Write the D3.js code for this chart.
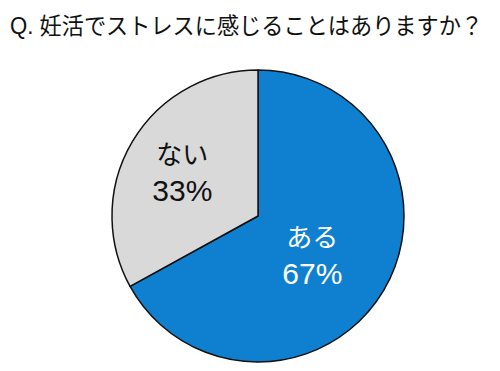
<!DOCTYPE html>
<html>
<head>
<meta charset="utf-8">
<script src="https://cdn.jsdelivr.net/npm/d3@7"></script>
<style>
  body { margin: 0; background: #fff; }
  text { font-family: "Liberation Sans", "Noto Sans CJK JP", sans-serif; }
</style>
</head>
<body>
<div id="chart"></div>
<script>
// data
const labels = ["ある", "ない"];
const values = [67, 33];
const colors = ["#0f7fd0", "#d9d9d9"];
const title = "Q. 妊活でストレスに感じることはありますか？";

const width = 500;
const height = 371;
const cx = 258, cy = 216, radius = 146;

const svg = d3.select("#chart")
    .append("svg")
    .attr("width", width)
    .attr("height", height);

svg.append("text")
    .attr("x", 10)
    .attr("y", 34)
    .attr("font-size", 23)
    .attr("textLength", 473)
    .attr("lengthAdjust", "spacingAndGlyphs")
    .attr("fill", "#111")
    .text(title);

const pie = d3.pie().sort(null).value(d => d);
const arcs = pie(values);
const arc = d3.arc().innerRadius(0).outerRadius(radius);

const g = svg.append("g").attr("transform", `translate(${cx},${cy})`);

g.selectAll("path")
    .data(arcs)
    .enter()
    .append("path")
    .attr("d", arc)
    .attr("fill", (d, i) => colors[i])
    .attr("stroke", "#111")
    .attr("stroke-width", 1.5)
    .attr("stroke-linejoin", "round");

// label placement: radius fraction + angle nudge (degrees) per slice
const labelPos = [{ r: 0.49, da: 10 }, { r: 0.575, da: -5 }];

const labelG = g.selectAll("g.lbl")
    .data(arcs)
    .enter()
    .append("g")
    .attr("class", "lbl")
    .attr("transform", (d, i) => {
        const a = (d.startAngle + d.endAngle) / 2 + labelPos[i].da * Math.PI / 180;
        const r = radius * labelPos[i].r;
        return `translate(${r * Math.sin(a)},${-r * Math.cos(a)})`;
    });

labelG.append("text")
    .attr("text-anchor", "middle")
    .attr("y", -16)
    .attr("font-size", 26)
    .attr("font-family", "'Noto Sans CJK JP', sans-serif")
    .attr("fill", (d, i) => i === 0 ? "#fff" : "#111")
    .text((d, i) => labels[i]);

labelG.append("text")
    .attr("text-anchor", "middle")
    .attr("y", 21)
    .attr("font-size", 30)
    .attr("fill", (d, i) => i === 0 ? "#fff" : "#111")
    .text(d => d.data + "%");
</script>
</body>
</html>
